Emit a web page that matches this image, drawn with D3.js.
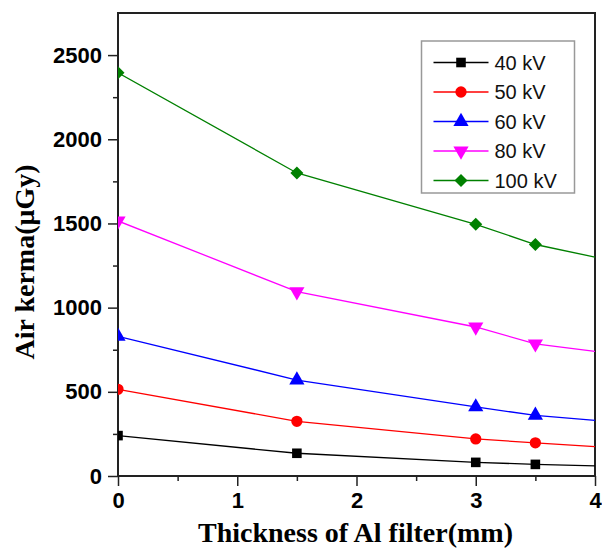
<!DOCTYPE html>
<meta charset="utf-8">
<script src="https://d3js.org/d3.v7.min.js"></script>
<style>
  body { margin: 0; background: #fff; }
  svg { display: block; }
</style>
<div id="chart"></div>
<script>
// data
var thickness = [0, 1.5, 3, 3.5, 4];
var seriesNames = ["40 kV", "50 kV", "60 kV", "80 kV", "100 kV"];
var kv40 = [240, 135, 81, 69, 60];
var kv50 = [515, 325, 220, 197, 175];
var kv60 = [830, 570, 410, 360, 330];
var kv80 = [1515, 1095, 885, 785, 740];
var kv100 = [2395, 1800, 1495, 1375, 1300];
var markedPoints = 4; // last x=4 point is line only
var xTicks = [0, 1, 2, 3, 4];
var yTicks = [0, 500, 1000, 1500, 2000, 2500];

var colors = ["#000000", "#ff0000", "#0000ff", "#ff00ff", "#008000"];
var symbols = [d3.symbolSquare, d3.symbolCircle, d3.symbolTriangle, d3.symbolTriangle, d3.symbolSquare];
var symSize = [92, 100, 100, 100, 85];
var symRot = [0, 0, 0, 180, 45];
var allSeries = [kv40, kv50, kv60, kv80, kv100];

var width = 602, height = 550;
var margin = {top: 13, right: 7, bottom: 74, left: 118};
var w = width - margin.left - margin.right,
    h = height - margin.top - margin.bottom;

var svg = d3.select("#chart").append("svg")
  .attr("width", width)
  .attr("height", height);

var g = svg.append("g")
  .attr("transform", "translate(" + margin.left + "," + margin.top + ")");

var x = d3.scaleLinear().domain([0, 4]).range([0, w]);
var y = d3.scaleLinear().domain([0, 2750]).range([h, 0]);

svg.append("defs").append("clipPath").attr("id", "clip")
  .append("rect").attr("width", w).attr("height", h);

// minor ticks
g.append("g")
  .attr("transform", "translate(0," + h + ")")
  .call(d3.axisBottom(x).tickValues([0.5, 1.5, 2.5, 3.5]).tickSize(5).tickFormat(""))
  .call(function (a) { a.select(".domain").remove(); a.selectAll("line").attr("stroke", "#222").attr("stroke-width", 1.5); });
g.append("g")
  .call(d3.axisLeft(y).tickValues([250, 750, 1250, 1750, 2250]).tickSize(5).tickFormat(""))
  .call(function (a) { a.select(".domain").remove(); a.selectAll("line").attr("stroke", "#222").attr("stroke-width", 1.5); });

// major axes
var xAxis = g.append("g")
  .attr("transform", "translate(0," + h + ")")
  .call(d3.axisBottom(x).tickValues(xTicks).tickSize(10).tickPadding(6).tickFormat(d3.format("d")));
var yAxis = g.append("g")
  .call(d3.axisLeft(y).tickValues(yTicks).tickSize(10).tickPadding(6).tickFormat(d3.format("d")));

[xAxis, yAxis].forEach(function (a) {
  a.select(".domain").remove();
  a.selectAll("line").attr("stroke", "#222").attr("stroke-width", 1.5);
  a.selectAll("text")
    .attr("font-family", "Liberation Sans, Arial, sans-serif")
    .attr("font-weight", "bold")
    .attr("font-size", "22px")
    .attr("fill", "#000");
});

// frame
g.append("rect")
  .attr("width", w).attr("height", h)
  .attr("fill", "none")
  .attr("stroke", "#222")
  .attr("stroke-width", 2);

// lines and markers
var line = d3.line()
  .x(function (d) { return x(d[0]); })
  .y(function (d) { return y(d[1]); });

var plot = g.append("g").attr("clip-path", "url(#clip)");

allSeries.forEach(function (vals, i) {
  var pts = thickness.map(function (t, j) { return [t, vals[j]]; });
  plot.append("path")
    .datum(pts)
    .attr("d", line)
    .attr("fill", "none")
    .attr("stroke", colors[i])
    .attr("stroke-width", 1.3);
  plot.selectAll(".m" + i)
    .data(pts.slice(0, markedPoints))
    .enter().append("path")
    .attr("d", d3.symbol().type(symbols[i]).size(symSize[i]))
    .attr("transform", function (d) {
      return "translate(" + x(d[0]) + "," + y(d[1]) + ") rotate(" + symRot[i] + ")";
    })
    .attr("fill", colors[i]);
});

// legend
var legend = g.append("g").attr("transform", "translate(" + (421.5 - margin.left) + "," + (41 - margin.top) + ")");
legend.append("rect")
  .attr("width", 153).attr("height", 152)
  .attr("fill", "#fff")
  .attr("stroke", "#999")
  .attr("stroke-width", 1.5);
seriesNames.forEach(function (name, i) {
  var row = legend.append("g").attr("transform", "translate(0," + (21.5 + i * 29.5) + ")");
  row.append("line")
    .attr("x1", 12).attr("x2", 67)
    .attr("stroke", colors[i]).attr("stroke-width", 1.3);
  row.append("path")
    .attr("d", d3.symbol().type(symbols[i]).size(symSize[i]))
    .attr("transform", "translate(39.5,0) rotate(" + symRot[i] + ")")
    .attr("fill", colors[i]);
  row.append("text")
    .attr("x", 73).attr("dy", "0.36em")
    .attr("font-family", "Liberation Sans, Arial, sans-serif")
    .attr("font-size", "20px")
    .attr("fill", "#111")
    .text(name);
});

// axis titles
svg.append("text")
  .attr("x", margin.left + w / 2 - 1).attr("y", 542)
  .attr("text-anchor", "middle")
  .attr("font-family", "Liberation Serif, Times New Roman, serif")
  .attr("font-weight", "bold")
  .attr("font-size", "28px")
  .text("Thickness of Al filter(mm)");

svg.append("text")
  .attr("transform", "translate(34,262) rotate(-90)")
  .attr("text-anchor", "middle")
  .attr("font-family", "Liberation Serif, Times New Roman, serif")
  .attr("font-weight", "bold")
  .attr("font-size", "28px")
  .text("Air kerma(μGy)");
</script>
